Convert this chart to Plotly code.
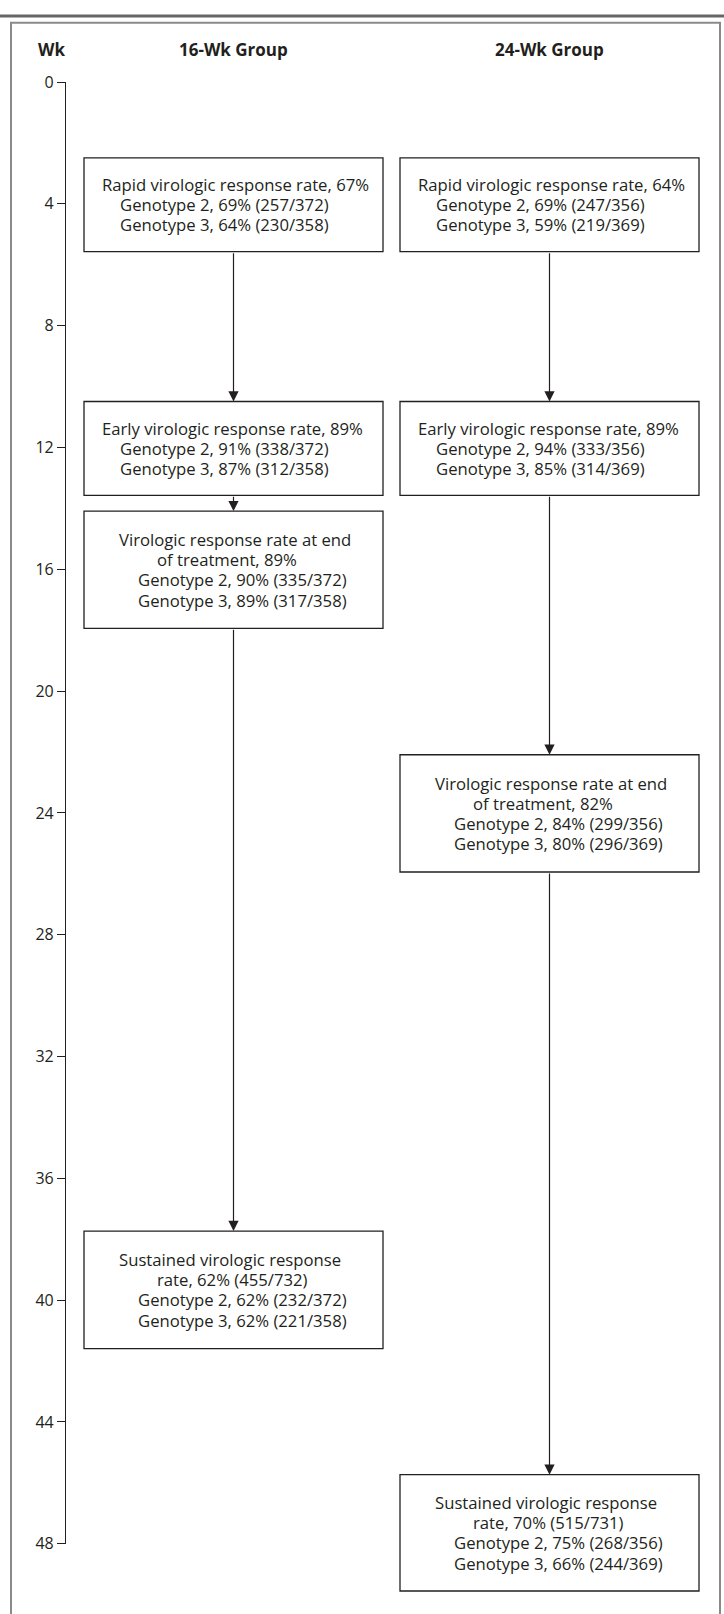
import plotly.graph_objects as go

# ---------------- data ----------------
groups = ["16-Wk Group", "24-Wk Group"]
week_ticks = [0, 4, 8, 12, 16, 20, 24, 28, 32, 36, 40, 44, 48]

overall_16 = [67, 89, 89, 62]
overall_24 = [64, 89, 82, 70]
svr_num = [455, 515]
svr_den = [732, 731]

g2_pct_16 = [69, 91, 90, 62]
g2_num_16 = [257, 338, 335, 232]
g2_den_16 = 372
g3_pct_16 = [64, 87, 89, 62]
g3_num_16 = [230, 312, 317, 221]
g3_den_16 = 358

g2_pct_24 = [69, 94, 84, 75]
g2_num_24 = [247, 333, 299, 268]
g2_den_24 = 356
g3_pct_24 = [59, 85, 80, 66]
g3_num_24 = [219, 314, 296, 244]
g3_den_24 = 369

assess_wk_16 = [4, 12, 16, 40]
assess_wk_24 = [4, 12, 24, 48]

# ---------------- layout constants ----------------
W, H = 724, 1614
PX_PER_WK = 30.875
Y0_PX = 72.0
WK_TOP = -Y0_PX / PX_PER_WK
WK_BOT = (H - Y0_PX) / PX_PER_WK

COL_LEFT = [84, 400]
BOX_W = 299
BOX_TOP = [[2.49, 10.49, 14.09, 37.73], [2.49, 10.49, 22.09, 45.73]]
BOX_BOT = [[5.57, 13.57, 17.94, 41.59], [5.57, 13.57, 25.94, 49.55]]
LINE_OFFS = [[16, 34, 34], [16, 34, 34], [33, 71, 52, 52], [33, 71, 52, 52]]
LINE_GAP_WK = 20.5 / PX_PER_WK

INK = "#231f20"
FRAME = "#8a8a8a"
FONT = "Open Sans"
TXT = 16.7
HDR = 17


def py(px):
    return 1 - px / H


def box_lines(g):
    ov = overall_16 if g == 0 else overall_24
    if g == 0:
        p2, n2, d2, p3, n3, d3 = g2_pct_16, g2_num_16, g2_den_16, g3_pct_16, g3_num_16, g3_den_16
    else:
        p2, n2, d2, p3, n3, d3 = g2_pct_24, g2_num_24, g2_den_24, g3_pct_24, g3_num_24, g3_den_24
    out = []
    for s in range(4):
        gl = [f"Genotype 2, {p2[s]}% ({n2[s]}/{d2})", f"Genotype 3, {p3[s]}% ({n3[s]}/{d3})"]
        if s == 0:
            out.append([f"Rapid virologic response rate, {ov[s]}%"] + gl)
        elif s == 1:
            out.append([f"Early virologic response rate, {ov[s]}%"] + gl)
        elif s == 2:
            out.append(["Virologic response rate at end", f"of treatment, {ov[s]}%"] + gl)
        else:
            out.append(["Sustained virologic response",
                        f"rate, {ov[s]}% ({svr_num[g]}/{svr_den[g]})"] + gl)
    return out


fig = go.Figure()

# invisible traces tying assessment weeks to the week axis
fig.add_trace(go.Scatter(x=[COL_LEFT[0] + BOX_W / 2] * 4, y=assess_wk_16, yaxis="y2",
                         mode="markers", marker=dict(opacity=0), hoverinfo="skip", showlegend=False))
fig.add_trace(go.Scatter(x=[COL_LEFT[1] + BOX_W / 2] * 4, y=assess_wk_24, yaxis="y2",
                         mode="markers", marker=dict(opacity=0), hoverinfo="skip", showlegend=False))

shapes = []
annotations = []

# top rule and outer frame (left, top, right sides)
shapes.append(dict(type="line", xref="paper", yref="paper", x0=0, x1=1, y0=py(5), y1=py(5),
                   line=dict(color="#666666", width=3)))
shapes.append(dict(type="path", xref="x", yref="paper",
                   path=f"M 11 {py(H + 20)} L 11 {py(12)} L 720 {py(12)} L 720 {py(H + 20)}",
                   line=dict(color=FRAME, width=2)))

# headers
annotations.append(dict(text="<b>Wk</b>", xref="x", yref="paper", x=51, y=py(39),
                        xanchor="center", yanchor="middle",
                        showarrow=False, font=dict(family=FONT, size=HDR, color=INK)))
for g in range(2):
    annotations.append(dict(text=f"<b>{groups[g]}</b>", xref="x", yref="paper",
                            x=COL_LEFT[g] + BOX_W / 2, y=py(39),
                            xanchor="center", yanchor="middle", showarrow=False,
                            font=dict(family=FONT, size=HDR, color=INK)))

for g in range(2):
    lines_all = box_lines(g)
    x0 = COL_LEFT[g]
    xc = x0 + BOX_W / 2
    for s in range(4):
        t, b = BOX_TOP[g][s], BOX_BOT[g][s]
        shapes.append(dict(type="rect", xref="x", yref="y", x0=x0, x1=x0 + BOX_W, y0=t, y1=b,
                           line=dict(color=INK, width=1.3), fillcolor="white"))
        lines = lines_all[s]
        n = len(lines)
        cy = (t + b) / 2
        for i, ln in enumerate(lines):
            annotations.append(dict(text=ln, xref="x", yref="y", x=x0 + LINE_OFFS[s][i],
                                    y=cy + (i - (n - 1) / 2) * LINE_GAP_WK,
                                    xanchor="left", yanchor="middle", showarrow=False,
                                    font=dict(family=FONT, size=TXT, color=INK)))
        if s < 3:
            annotations.append(dict(text="", xref="x", yref="y", x=xc, y=BOX_TOP[g][s + 1],
                                    axref="x", ayref="y", ax=xc, ay=b, showarrow=True,
                                    arrowhead=2, arrowsize=1.7, arrowwidth=1.2,
                                    arrowcolor=INK, standoff=0))

fig.update_layout(
    width=W, height=H, margin=dict(l=0, r=0, t=0, b=0),
    paper_bgcolor="white", plot_bgcolor="rgba(0,0,0,0)",
    showlegend=False,
    xaxis=dict(range=[0, W], domain=[0, 1], visible=False, fixedrange=True),
    yaxis=dict(range=[WK_BOT, WK_TOP], domain=[0, 1], visible=False, fixedrange=True),
    yaxis2=dict(range=[48, 0], domain=[py(Y0_PX + 48 * PX_PER_WK), py(Y0_PX)],
                anchor="free", position=65 / W, side="left",
                tickvals=week_ticks, ticktext=[str(v) for v in week_ticks],
                ticks="outside", ticklen=8, tickwidth=1.2, tickcolor=INK,
                showline=True, linecolor=INK, linewidth=1.2, showgrid=False, zeroline=False,
                tickfont=dict(family=FONT, size=16, color=INK), fixedrange=True),
    shapes=shapes, annotations=annotations,
)

fig.write_html(
    "out.html",
    config={"displayModeBar": False},
    post_script="document.body.style.margin='0';document.body.style.overflow='hidden';",
)
